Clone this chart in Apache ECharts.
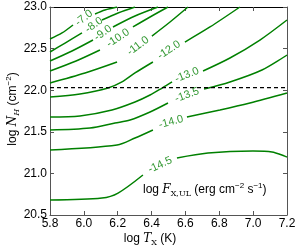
<!DOCTYPE html>
<html><head><meta charset="utf-8">
<script src="https://cdn.jsdelivr.net/npm/echarts@6/dist/echarts.min.js"></script>
<style>html,body{margin:0;padding:0;background:#fff}#c{width:300px;height:250px}</style>
</head><body><div id="c"></div>
<script>
// tick labels
const xTickLabels = ['5.8','6.0','6.2','6.4','6.6','6.8','7.0','7.2'];
const yTickLabels = ['20.5','21.0','21.5','22.0','22.5','23.0'];
// contour levels (log F_X,UL)
const levels = ['-7.0','-8.0','-9.0','-10.0','-11.0','-12.0','-13.0','-13.5','-14.0','-14.5'];
// each contour: segments (broken at the inline label), points [logT, logNH]
const c_7_0 = [[[5.80,22.615],[5.871,22.688],[5.936,22.784]],
               [[6.066,22.916],[6.125,22.964],[6.196,23.0]]];
const c_8_0 = [[[5.80,22.459],[5.889,22.567],[5.989,22.688]],
               [[6.107,22.844],[6.202,22.928],[6.302,23.0]]];
const c_9_0 = [[[5.80,22.351],[5.930,22.471],[6.054,22.603]],
               [[6.172,22.760],[6.302,22.892],[6.438,23.0]]];
const c_10_0 = [[[5.80,22.231],[5.954,22.351],[6.095,22.483]],
                [[6.290,22.760],[6.391,22.880],[6.497,23.0]]];
const c_11_0 = [[[5.80,22.087],[6.007,22.207],[6.196,22.339]],
                [[6.402,22.651],[6.509,22.820],[6.615,23.0]]];
const c_12_0 = [[[5.80,21.918],[5.977,21.954],[6.143,22.026],[6.225,22.099],[6.302,22.207],[6.408,22.339]],
                [[6.597,22.579],[6.745,22.760],[6.922,23.0]]];
const c_13_0 = [[[5.80,21.678],[5.977,21.690],[6.166,21.762],[6.302,21.858],[6.391,21.942],[6.462,22.026],[6.521,22.099]],
                [[6.704,22.231],[6.863,22.387],[7.040,22.603],[7.2,22.844]]];
const c_13_5 = [[[5.80,21.522],[6.036,21.546],[6.184,21.606],[6.273,21.642],[6.391,21.738],[6.497,21.846]],
                [[6.710,22.014],[6.863,22.099],[7.052,22.243],[7.2,22.423]]];
const c_14_0 = [[[5.80,21.281],[6.196,21.341],[6.302,21.425],[6.408,21.522]],
                [[6.609,21.678],[6.804,21.762],[6.981,21.846],[7.2,21.966]]];
const c_14_5 = [[[5.80,20.680],[6.107,20.704],[6.202,20.764],[6.349,20.981]],
                [[6.550,21.185],[6.733,21.245],[6.999,21.269],[7.111,21.257],[7.2,21.197]]];
const contours = [c_7_0,c_8_0,c_9_0,c_10_0,c_11_0,c_12_0,c_13_0,c_13_5,c_14_0,c_14_5];
// inline label anchor points [logT, logNH]
const labelAt = [[6.001,22.868],[6.060,22.784],[6.113,22.688],[6.202,22.627],[6.320,22.531],
                 [6.503,22.483],[6.609,22.183],[6.609,21.942],[6.515,21.618],[6.450,21.101]];
// detection threshold line
const dashedNH = 22.03;
</script>
<script>
const chart = echarts.init(document.getElementById('c'), null, {renderer:'canvas'});
const green = '#008000';
const labelRot = [38,35,35,33,37,33,22,20,15,25];
const series = [];
contours.forEach(segs => segs.forEach(seg => series.push({
  type:'line', data:seg, showSymbol:false, symbol:'none', smooth:0.3,
  lineStyle:{color:green, width:1.5}, silent:true, z:3, xAxisIndex:0, yAxisIndex:0
})));
series.push({
  type:'line', data:[[+xTickLabels[0],dashedNH],[+xTickLabels[xTickLabels.length-1],dashedNH]],
  showSymbol:false, symbol:'none', lineStyle:{color:'#000', width:1.3, type:[4,3]}, silent:true, z:4
});
series.push({
  type:'scatter', symbolSize:0, silent:true, z:5,
  data: labelAt.map((p,i)=>({value:p, name:levels[i], label:{rotate:labelRot[i]}})),
  label:{show:true, position:'inside', formatter:p=>p.name, color:green,
         fontFamily:'Liberation Sans', fontSize:11}
});
const tickFont = {fontFamily:'Liberation Sans', fontSize:12, color:'#000'};
const axisLineGray = {show:true, lineStyle:{color:'#555', width:1}};
chart.setOption({
  animation:false,
  grid:{left:50, right:13, top:7, bottom:35, containLabel:false},
  xAxis:[{type:'value', min:+xTickLabels[0], max:+xTickLabels[xTickLabels.length-1], interval:0.2,
          axisLine:axisLineGray, axisTick:{show:true, inside:true, length:4, lineStyle:{color:'#555'}},
          axisLabel:Object.assign({margin:3, formatter:v=>v.toFixed(1)}, tickFont), splitLine:{show:false}},
         {type:'value', position:'top', min:+xTickLabels[0], max:+xTickLabels[xTickLabels.length-1], interval:0.2,
          axisLine:{show:true, lineStyle:{color:'#000', width:1}}, axisTick:{show:true, inside:true, length:4, lineStyle:{color:'#555'}},
          axisLabel:{show:false}, splitLine:{show:false}}],
  yAxis:[{type:'value', min:+yTickLabels[0], max:+yTickLabels[yTickLabels.length-1], interval:0.5,
          axisLine:axisLineGray, axisTick:{show:true, inside:true, length:4, lineStyle:{color:'#555'}},
          axisLabel:Object.assign({margin:3, formatter:v=>v.toFixed(1)}, tickFont), splitLine:{show:false}},
         {type:'value', position:'right', min:+yTickLabels[0], max:+yTickLabels[yTickLabels.length-1], interval:0.5,
          axisLine:axisLineGray, axisTick:{show:true, inside:true, length:4, lineStyle:{color:'#555'}},
          axisLabel:{show:false}, splitLine:{show:false}}],
  series: series,
  graphic:[
    {type:'text', left:'center', top:233, style:{
      text:'{r|log }{i|T}{s|X}{r| (K)}',
      rich:{r:{fontFamily:'Liberation Sans', fontSize:12, lineHeight:16, verticalAlign:'middle'},
            i:{fontFamily:'DejaVu Serif', fontStyle:'italic', fontSize:12, lineHeight:16},
            s:{fontFamily:'DejaVu Serif', fontSize:8, lineHeight:16, verticalAlign:'bottom'}}}},
    {type:'text', x:13, y:109, rotation:Math.PI/2, style:{
      text:'{r|log }{i|N}{s|H}{r| (cm}{p|−2}{r|)}', align:'center', verticalAlign:'middle',
      rich:{r:{fontFamily:'Liberation Sans', fontSize:12, lineHeight:16},
            i:{fontFamily:'DejaVu Serif', fontStyle:'italic', fontSize:12, lineHeight:16},
            s:{fontFamily:'DejaVu Serif', fontStyle:'italic', fontSize:8, lineHeight:16, verticalAlign:'bottom'},
            p:{fontFamily:'Liberation Sans', fontSize:8, lineHeight:16, verticalAlign:'top'}}}},
    {type:'text', x:143, y:182, style:{
      text:'{r|log }{i|F}{s|X,UL}{r| (erg cm}{p|−2}{r| s}{p|−1}{r|)}',
      rich:{r:{fontFamily:'Liberation Sans', fontSize:12, lineHeight:16},
            i:{fontFamily:'DejaVu Serif', fontStyle:'italic', fontSize:12, lineHeight:16},
            s:{fontFamily:'DejaVu Serif', fontSize:8, lineHeight:16, verticalAlign:'bottom'},
            p:{fontFamily:'Liberation Sans', fontSize:8, lineHeight:16, verticalAlign:'top'}}}}
  ]
});
</script>
</body></html>
